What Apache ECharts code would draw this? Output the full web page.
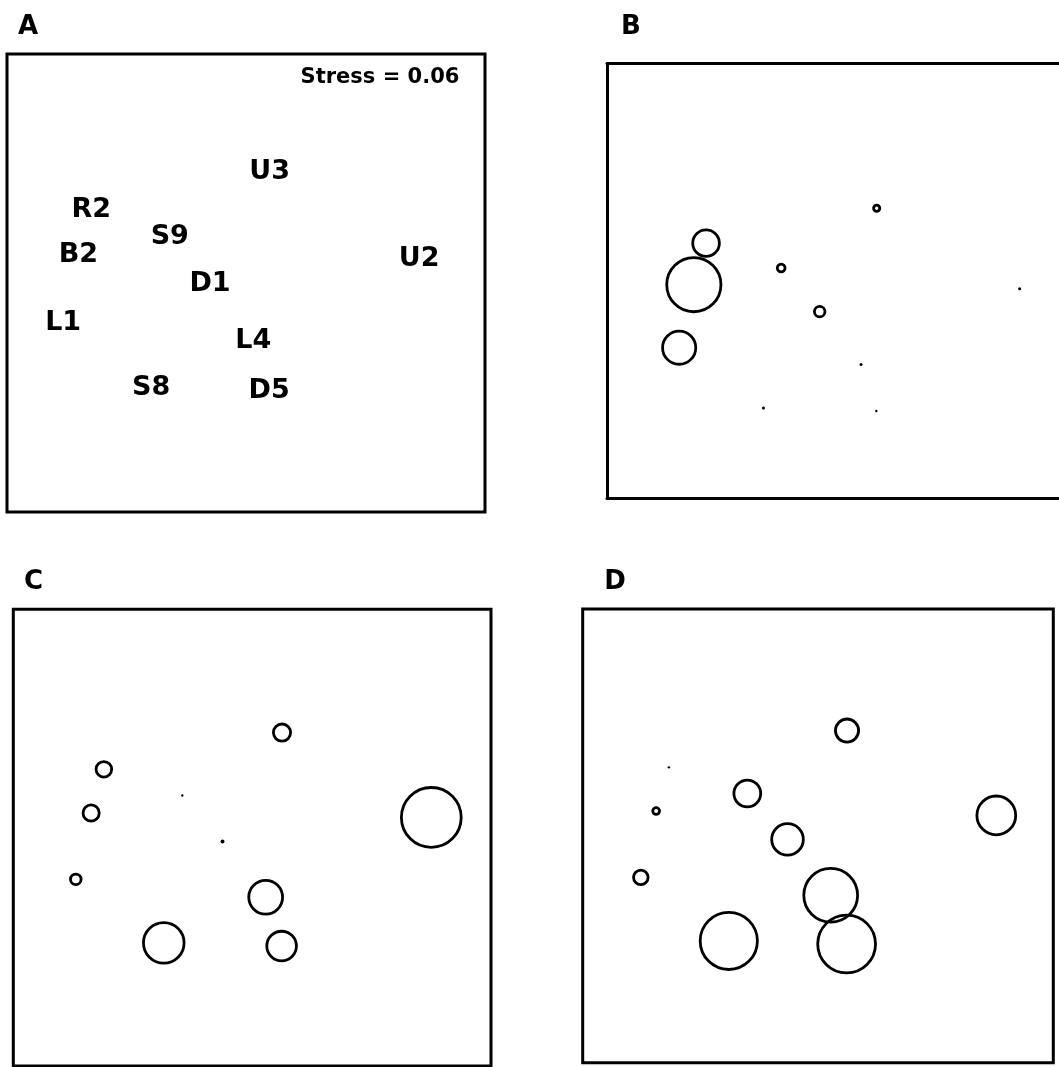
<!DOCTYPE html>
<html>
<head>
<meta charset="utf-8">
<script src="https://cdn.jsdelivr.net/npm/echarts@6/dist/echarts.min.js"></script>
<style>
  html, body { margin: 0; padding: 0; background: #fff; }
  #chart { width: 1059px; height: 1067px; }
</style>
</head>
<body>
<div id="chart"></div>
<script>
// ---- Data (NMDS configuration of 10 sites) ----
const sites  = ['U3', 'R2', 'S9', 'B2', 'U2', 'D1', 'L1', 'L4', 'S8', 'D5'];
const nmds1  = [0.150, -0.745, -0.351, -0.809, 0.900, -0.149, -0.886, 0.068, -0.444, 0.148];
const nmds2  = [0.529, 0.344, 0.212, 0.124, 0.102, -0.019, -0.210, -0.300, -0.530, -0.546];
// bubble values (relative abundance, drawn as circle radius)
const abundB = [4.5, 14.7, 5.3, 28.5, 1.5, 6.7, 18.0, 1.5, 1.5, 1.2];
const abundC = [10.0, 9.2, 1.2, 9.5, 31.3, 2.0, 6.7, 18.3, 21.7, 16.2];
const abundD = [13.0, 1.2, 14.8, 4.8, 20.8, 17.2, 8.7, 28.3, 30.0, 30.3];
const panelLetters = ['A', 'B', 'C', 'D'];
const stressText = 'Stress = 0.06';

// ---- Layout / style ----
const LW = 2.8;
const FRAME = 3;
const FONT = '"DejaVu Sans", "Liberation Sans", sans-serif';
const grids = [
  { left: 7,     top: 54,    width: 478,   height: 458,   show: true },
  { left: 607,   top: 63.5,  right: 0,     height: 434.5, show: false },
  { left: 13.3,  top: 609.3, width: 477.7, height: 456.7, show: true },
  { left: 582.7, top: 609,   width: 470.6, height: 453.7, show: true }
];
const xRanges = [[-1.1676, 1.2308], [-1.2645, 1.1062], [-1.2, 1.2], [-1.178, 1.1864]];
const yRanges = [[-1.1485, 1.0999], [-1.0072, 1.2966], [-1.15, 1.15], [-1.1435, 1.1414]];
const letterPos = [[28, 27], [631, 27], [33.5, 582], [615, 582.5]];

function bubbleData(abund) {
  return sites.map((s, i) => {
    const r = abund[i];
    const dot = r <= 2;
    return {
      name: s,
      value: [nmds1[i], nmds2[i]],
      symbolSize: dot ? 2 * r : 2 * r - LW,
      itemStyle: dot
        ? { color: '#000', borderWidth: 0, opacity: 1 }
        : { color: 'rgba(0,0,0,0)', borderColor: '#000', borderWidth: LW, opacity: 1 }
    };
  });
}

const frameLine = { show: true, onZero: false, lineStyle: { color: '#000', width: FRAME } };
function axis(i, r, extra) {
  return Object.assign({
    type: 'value', gridIndex: i, min: r[0], max: r[1], show: false,
    splitLine: { show: false }, axisTick: { show: false }, axisLabel: { show: false }
  }, extra || {});
}

const xAxes = xRanges.map((r, i) => axis(i, r, i === 1 ? { show: true, position: 'bottom', axisLine: frameLine } : null));
xAxes.push(axis(1, xRanges[1], { show: true, position: 'top', axisLine: frameLine }));
const yAxes = yRanges.map((r, i) => axis(i, r, i === 1 ? { show: true, position: 'left', axisLine: frameLine } : null));

const chart = echarts.init(document.getElementById('chart'), null, { renderer: 'canvas' });

const option = {
  animation: false,
  backgroundColor: '#fff',
  grid: grids.map(g => Object.assign({ borderColor: '#000', borderWidth: FRAME, backgroundColor: 'transparent', containLabel: false }, g)),
  xAxis: xAxes,
  yAxis: yAxes,
  series: [
    {
      type: 'scatter', xAxisIndex: 0, yAxisIndex: 0,
      data: sites.map((s, i) => ({ name: s, value: [nmds1[i], nmds2[i]] })),
      symbolSize: 1,
      itemStyle: { color: 'rgba(0,0,0,0)', opacity: 1 },
      label: {
        show: true, position: 'inside', offset: [0, 2], formatter: p => p.name,
        color: '#000', opacity: 1, fontFamily: FONT, fontWeight: 'bold', fontSize: 27
      },
      silent: true
    },
    { type: 'scatter', xAxisIndex: 1, yAxisIndex: 1, symbol: 'circle', data: bubbleData(abundB), silent: true },
    { type: 'scatter', xAxisIndex: 2, yAxisIndex: 2, symbol: 'circle', data: bubbleData(abundC), silent: true },
    { type: 'scatter', xAxisIndex: 3, yAxisIndex: 3, symbol: 'circle', data: bubbleData(abundD), silent: true }
  ],
  graphic: panelLetters.map((t, i) => ({
    type: 'text', x: letterPos[i][0], y: letterPos[i][1],
    style: { text: t, fill: '#000', font: 'bold 26px ' + FONT, align: 'center', verticalAlign: 'middle' }
  })).concat([{
    type: 'text', x: 380, y: 78,
    style: { text: stressText, fill: '#000', font: 'bold 21px ' + FONT, align: 'center', verticalAlign: 'middle' }
  }])
};

chart.setOption(option);
</script>
</body>
</html>
